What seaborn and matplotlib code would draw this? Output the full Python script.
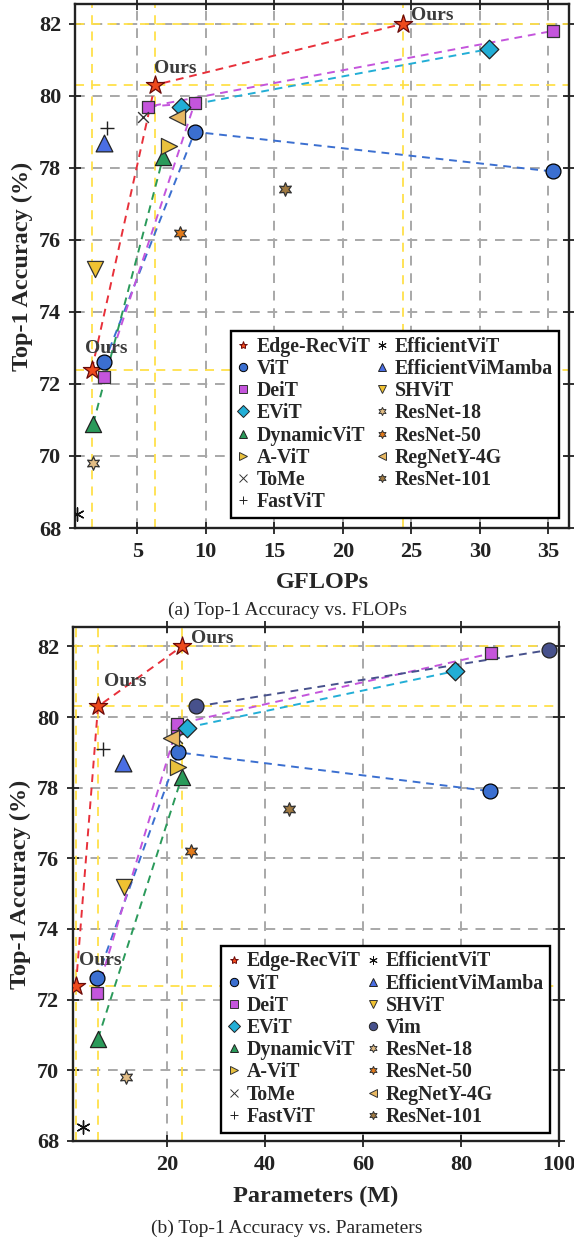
import matplotlib
matplotlib.use('Agg')
import matplotlib.pyplot as plt
import seaborn as sns
from matplotlib.lines import Line2D

# ---- data: (a) GFLOPs vs top-1 accuracy ----
ours_flops = [1.7, 6.3, 24.4]
ours_acc = [72.4, 80.3, 82.0]
vit_flops = [2.6, 9.2, 35.3]
vit_acc = [72.6, 79.0, 77.9]
deit_flops = [2.6, 9.2, 5.8, 35.3]
deit_acc = [72.2, 79.8, 79.7, 81.8]
evit_flops = [8.2, 30.7]
evit_acc = [79.7, 81.3]
dyn_flops = [1.8, 6.9]
dyn_acc = [70.9, 78.3]
avit_flops, avit_acc = [7.3], [78.6]
tome_flops, tome_acc = [5.4], [79.4]
fastvit_flops, fastvit_acc = [2.8], [79.1]
effvit_flops, effvit_acc = [0.6], [68.4]
effvim_flops, effvim_acc = [2.6], [78.7]
shvit_flops, shvit_acc = [1.9], [75.2]
r18_flops, r18_acc = [1.8], [69.8]
r50_flops, r50_acc = [8.1], [76.2]
regnet_flops, regnet_acc = [7.9], [79.4]
r101_flops, r101_acc = [15.8], [77.4]

# ---- data: (b) parameters vs top-1 accuracy ----
ours_params = [1.4, 5.9, 23.0]
vit_params = [5.7, 22.3, 86.0]
deit_params = [5.7, 22.0, 22.0, 86.1]
deit_acc_b = [72.2, 79.7, 79.8, 81.8]
evit_params = [24.0, 78.8]
dyn_params = [5.9, 23.0]
vim_params = [26.0, 98.0]
vim_acc = [80.3, 81.9]
avit_params = [22.2]
tome_params = [22.0]
fastvit_params = [6.9]
effvit_params = [2.9]
effvim_params = [11.0]
shvit_params = [11.3]
r18_params = [11.6]
r50_params = [24.9]
regnet_params = [20.8]
r101_params = [44.9]

sns.set_style('ticks')
plt.rcParams['font.family'] = ['Liberation Serif', 'DejaVu Serif']
plt.rcParams['font.weight'] = 'bold'
plt.rcParams['axes.labelweight'] = 'bold'

YELLOW = '#ffe04a'
HEX = (6, 1, 0)
AST = (6, 2, 0)

# name: (marker, face colour, edge colour, size, line colour)
styles = {
    'Edge-RecViT': ('*', '#ee4a1c', '#6a0a0a', 190, '#e8303a'),
    'ViT': ('o', '#3b6fd0', 'k', 115, '#3b6fd0'),
    'DeiT': ('s', '#c455dc', '#333333', 80, '#c455dc'),
    'EViT': ('D', '#22aed6', '#222222', 90, '#22aed6'),
    'DynamicViT': ('^', '#2a9a5a', '#222222', 135, '#2a9a5a'),
    'A-ViT': ('>', '#e8c03c', '#333333', 135, None),
    'ToMe': ('x', '#333333', '#333333', 60, None),
    'FastViT': ('+', '#222222', '#222222', 110, None),
    'EfficientViT': (AST, '#111111', '#111111', 90, None),
    'EfficientViMamba': ('^', '#4a6ee4', '#222222', 145, None),
    'SHViT': ('v', '#f0c232', '#333333', 135, None),
    'Vim': ('o', '#47518c', '#222222', 115, '#47518c'),
    'ResNet-18': (HEX, '#e2bd85', '#333333', 95, None),
    'ResNet-50': (HEX, '#e27a1a', '#333333', 95, None),
    'RegNetY-4G': ('<', '#e8b862', '#333333', 135, None),
    'ResNet-101': (HEX, '#a07a42', '#333333', 95, None),
}


def draw_series(ax, name, xs, ys):
    marker, fc, ec, size, lc = styles[name]
    if lc is not None:
        sns.lineplot(x=xs, y=ys, ax=ax, color=lc, linestyle=(0, (4, 3)), lw=1.4,
                     sort=False, estimator=None, legend=False, zorder=3)
    if marker in ('x', '+', AST):
        sns.scatterplot(x=xs, y=ys, ax=ax, marker=marker, s=size, color=fc,
                        edgecolor=fc, linewidth=1.0, legend=False, zorder=5)
    else:
        sns.scatterplot(x=xs, y=ys, ax=ax, marker=marker, s=size, color=fc,
                        edgecolor=ec, linewidth=0.9, legend=False, zorder=5)


def style_axes(ax, xlim, xticks, ref_x, ref_y):
    ax.set_xlim(*xlim)
    ax.set_ylim(68, 82.55)
    ax.set_xticks(xticks)
    ax.set_yticks([68, 70, 72, 74, 76, 78, 80, 82])
    ax.grid(True, color='#a8a8a8', linestyle=(0, (5, 4)), lw=1.4, zorder=0)
    for v in ref_x:
        ax.axvline(v, color=YELLOW, linestyle=(0, (5, 4)), lw=1.3, zorder=1)
    for v in ref_y:
        ax.axhline(v, color=YELLOW, linestyle=(0, (5, 4)), lw=1.3, zorder=1)
    for s in ax.spines.values():
        s.set_visible(True)
        s.set_linewidth(1.7)
        s.set_color('#222222')
    ax.tick_params(direction='inout', length=8, width=1.3, labelsize=16, pad=6,
                   top=True, right=True, labeltop=False, labelright=False, colors='#222222')


def add_legend(ax, names, anchor):
    handles = []
    for n in names:
        marker, fc, ec, size, lc = styles[n]
        if marker in ('x', '+', AST):
            ec = fc
        handles.append(Line2D([], [], linestyle='none', marker=marker, markersize=6,
                              markerfacecolor=fc, markeredgecolor=ec, color=fc,
                              markeredgewidth=0.7))
    leg = ax.legend(handles, names, ncol=2, loc='lower right', bbox_to_anchor=anchor,
                    borderaxespad=0, fancybox=False, framealpha=1, edgecolor='black',
                    prop={'family': 'Liberation Serif', 'weight': 'bold', 'size': 14.3},
                    handlelength=0.7, handletextpad=0.3, columnspacing=0.25,
                    labelspacing=0.11, borderpad=0.3)
    leg.get_frame().set_linewidth(1.7)
    leg.set_zorder(10)


def add_ours(ax, xs, ys, offsets):
    for x, y, off in zip(xs, ys, offsets):
        ax.annotate('Ours', (x, y), xytext=off, textcoords='offset points',
                    ha='left', va='center', fontsize=14, fontweight='bold',
                    color='#3c3c3c', zorder=8)


fig = plt.figure(figsize=(5.74, 12.43), dpi=100)

# ---- (a) ----
ax1 = fig.add_axes([0.1307, 0.5752, 0.8606, 0.4216])
style_axes(ax1, (0.47, 36.5), [5, 10, 15, 20, 25, 30, 35],
           [1.7, 6.3, 24.4], [72.4, 80.3, 82.0])
draw_series(ax1, 'Edge-RecViT', ours_flops, ours_acc)
draw_series(ax1, 'ViT', vit_flops, vit_acc)
draw_series(ax1, 'DeiT', deit_flops, deit_acc)
draw_series(ax1, 'EViT', evit_flops, evit_acc)
draw_series(ax1, 'DynamicViT', dyn_flops, dyn_acc)
draw_series(ax1, 'A-ViT', avit_flops, avit_acc)
draw_series(ax1, 'ToMe', tome_flops, tome_acc)
draw_series(ax1, 'FastViT', fastvit_flops, fastvit_acc)
draw_series(ax1, 'EfficientViT', effvit_flops, effvit_acc)
draw_series(ax1, 'EfficientViMamba', effvim_flops, effvim_acc)
draw_series(ax1, 'SHViT', shvit_flops, shvit_acc)
draw_series(ax1, 'ResNet-18', r18_flops, r18_acc)
draw_series(ax1, 'ResNet-50', r50_flops, r50_acc)
draw_series(ax1, 'RegNetY-4G', regnet_flops, regnet_acc)
draw_series(ax1, 'ResNet-101', r101_flops, r101_acc)
ax1.set_xlabel('GFLOPs', fontsize=17.5, fontweight='bold', labelpad=7)
ax1.set_ylabel('Top-1 Accuracy (%)', fontsize=17.5, fontweight='bold', labelpad=4)
add_ours(ax1, ours_flops, ours_acc, [(-5, 15), (-1, 12), (6, 6)])
add_legend(ax1, ['Edge-RecViT', 'ViT', 'DeiT', 'EViT', 'DynamicViT', 'A-ViT', 'ToMe',
                 'FastViT', 'EfficientViT', 'EfficientViMamba', 'SHViT', 'ResNet-18',
                 'ResNet-50', 'RegNetY-4G', 'ResNet-101'], (0.98, 0.019))
fig.text(0.5, 1 - 610 / 1243, '(a) Top-1 Accuracy vs. FLOPs', ha='center', va='center',
         fontsize=14, fontweight='normal')

# ---- (b) ----
ax2 = fig.add_axes([0.1272, 0.0821, 0.8467, 0.4135])
style_axes(ax2, (0.8, 100), [20, 40, 60, 80, 100],
           [1.4, 5.9, 23.0], [72.4, 80.3, 82.0])
draw_series(ax2, 'Edge-RecViT', ours_params, ours_acc)
draw_series(ax2, 'ViT', vit_params, vit_acc)
draw_series(ax2, 'DeiT', deit_params, deit_acc_b)
draw_series(ax2, 'EViT', evit_params, evit_acc)
draw_series(ax2, 'DynamicViT', dyn_params, dyn_acc)
draw_series(ax2, 'Vim', vim_params, vim_acc)
draw_series(ax2, 'A-ViT', avit_params, avit_acc)
draw_series(ax2, 'ToMe', tome_params, tome_acc)
draw_series(ax2, 'FastViT', fastvit_params, fastvit_acc)
draw_series(ax2, 'EfficientViT', effvit_params, effvit_acc)
draw_series(ax2, 'EfficientViMamba', effvim_params, effvim_acc)
draw_series(ax2, 'SHViT', shvit_params, shvit_acc)
draw_series(ax2, 'ResNet-18', r18_params, r18_acc)
draw_series(ax2, 'ResNet-50', r50_params, r50_acc)
draw_series(ax2, 'RegNetY-4G', regnet_params, regnet_acc)
draw_series(ax2, 'ResNet-101', r101_params, r101_acc)
ax2.set_xlabel('Parameters (M)', fontsize=17.5, fontweight='bold', labelpad=8)
ax2.set_ylabel('Top-1 Accuracy (%)', fontsize=17.5, fontweight='bold', labelpad=4)
add_ours(ax2, ours_params, ours_acc, [(2, 18), (4, 18), (7, 6)])
add_legend(ax2, ['Edge-RecViT', 'ViT', 'DeiT', 'EViT', 'DynamicViT', 'A-ViT', 'ToMe',
                 'FastViT', 'EfficientViT', 'EfficientViMamba', 'SHViT', 'Vim',
                 'ResNet-18', 'ResNet-50', 'RegNetY-4G', 'ResNet-101'], (0.981, 0.016))
fig.text(0.5, 1 - 1228 / 1243, '(b) Top-1 Accuracy vs. Parameters', ha='center', va='center',
         fontsize=14, fontweight='normal')

for ax in (ax1, ax2):
    for lab in ax.get_xticklabels() + ax.get_yticklabels():
        lab.set_fontweight('bold')
        lab.set_fontsize(16)

fig.savefig('out.png', dpi=100)
